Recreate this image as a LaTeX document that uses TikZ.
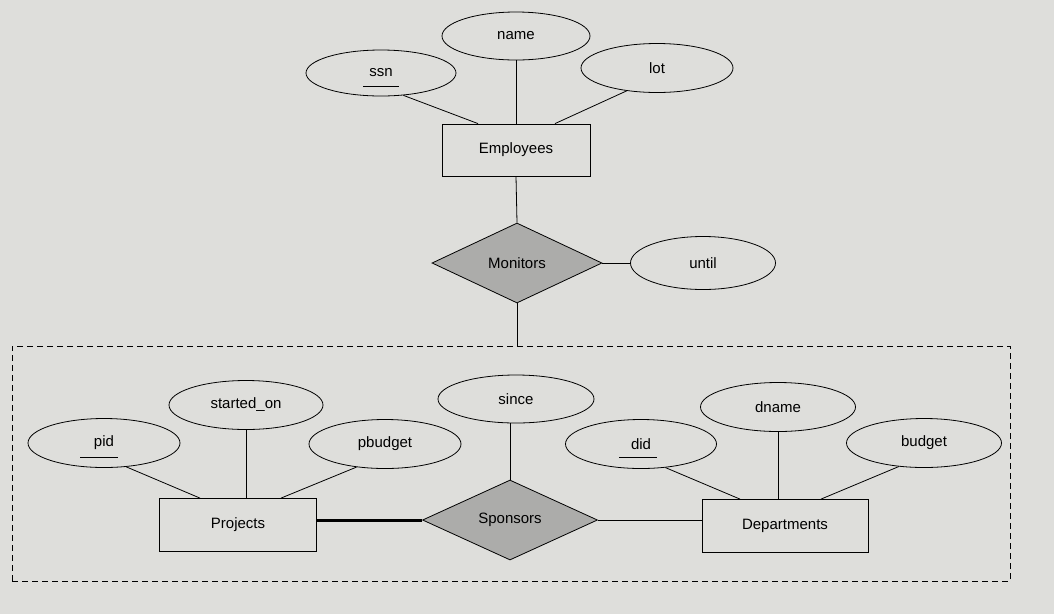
\documentclass[tikz,border=0pt]{standalone}
\usepackage{fontspec}
\setmainfont{Liberation Sans}
\usetikzlibrary{shapes.geometric}
\definecolor{paper}{RGB}{222,222,219}
\definecolor{relfill}{RGB}{172,172,170}
\tikzset{
  x=1pt, y=-1pt,
  every node/.style={font=\fontsize{15}{18}\selectfont, inner sep=0pt},
  attr/.style={draw, ellipse, line width=0.8pt, minimum width=152pt, minimum height=49pt},
  entity/.style={draw, rectangle, line width=0.8pt},
  rel/.style={draw, diamond, fill=relfill, line width=0.8pt, minimum width=172pt, minimum height=80pt},
  conn/.style={line width=0.8pt},
  keyline/.style={line width=0.8pt},
}
\begin{document}
\begin{tikzpicture}
\fill[paper] (0,0) rectangle (1054,614);
\useasboundingbox (0,0) rectangle (1054,614);

% aggregation box
\node[draw, dashed, dash pattern=on 6pt off 4pt, line width=0.8pt, minimum width=998pt, minimum height=235pt] (agg) at (511,463.5) {};

% Employees part
\node[attr, minimum width=148pt, minimum height=48pt] (name) at (516,36) {name};
\node[attr, minimum width=150pt, minimum height=46pt] (ssn) at (381,73) {ssn};
\node[attr] (lot) at (657,68) {lot};
\node[entity, minimum width=148pt, minimum height=52pt] (emp) at (516,150) {Employees};
\node[rel, minimum width=170pt] (mon) at (517,263) {Monitors};
\node[attr, minimum width=145pt, minimum height=53pt] (until) at (703,263) {until};

\draw[keyline] ([xshift=-18pt,yshift=-13pt]ssn.center) -- ++(36pt,0);
\draw[conn] (ssn.-45) -- ([xshift=-38pt]emp.north);
\draw[conn] (name.south) -- (emp.north);
\draw[conn] (lot.-143) -- ([xshift=39pt]emp.north);
\draw[conn] (emp.south) -- (mon.north);
\draw[conn] (mon.east) -- (until.west);
\draw[conn] (mon.south) -- (mon.south |- agg.north);

% Projects part
\node[attr] (pid) at (104,443) {pid};
\node[attr, minimum width=154pt] (so) at (246,405) {started\_on};
\node[attr] (pb) at (385,444) {pbudget};
\node[entity, minimum width=157pt, minimum height=53pt] (proj) at (238,525) {Projects};
\draw[keyline] ([xshift=-24pt,yshift=-14pt]pid.center) -- ++(38pt,0);
\draw[conn] (pid.-47) -- ([xshift=-38pt]proj.north);
\draw[conn] (so.south) -- (so.south |- proj.north);
\draw[conn] (pb.-141) -- ([xshift=43pt]proj.north);

% Sponsors
\node[rel, minimum width=175pt] (spons) at (510,520) {Sponsors};
\node[attr, minimum width=156pt, minimum height=48pt] (since) at (516,399) {since};
\draw[conn] (spons.north |- since.south) -- (spons.north);
\draw[line width=3pt] (spons.west) -- (spons.west -| proj.east);

% Departments part
\node[attr, minimum width=151pt] (did) at (641,444) {did};
\node[attr, minimum width=155pt] (dname) at (778,407) {dname};
\node[attr, minimum width=155pt] (budget) at (924,443) {budget};
\node[entity, minimum width=166pt, minimum height=53pt] (dept) at (785,526) {Departments};
\draw[keyline] ([xshift=-22pt,yshift=-13pt]did.center) -- ++(38pt,0);
\draw[conn] (did.-44) -- ([xshift=-45pt]dept.north);
\draw[conn] (dname.south) -- (dname.south |- dept.north);
\draw[conn] (budget.-137) -- ([xshift=36pt]dept.north);
\draw[conn] (spons.east) -- (spons.east -| dept.west);
\end{tikzpicture}
\end{document}
